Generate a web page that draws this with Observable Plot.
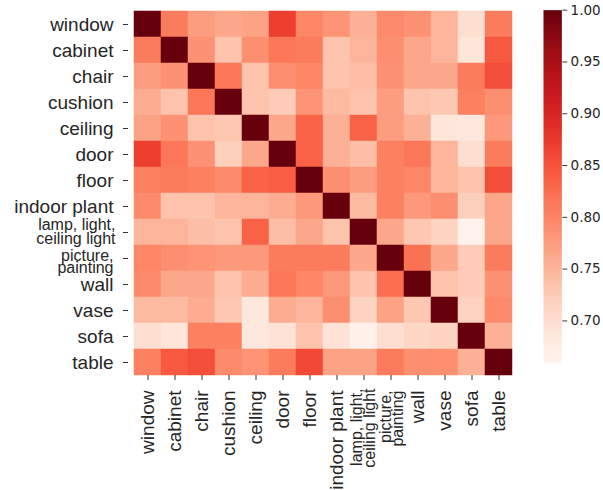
<!DOCTYPE html>
<html>
<head>
<meta charset="utf-8">
<script src="https://cdn.jsdelivr.net/npm/d3@7"></script>
<script src="https://cdn.jsdelivr.net/npm/@observablehq/plot@0.6"></script>
<style>
  html, body { margin: 0; padding: 0; background: #fff; }
  #wrap { position: relative; width: 603px; height: 490px; }
  #bar { position: absolute; left: 543px; top: 0; }
</style>
</head>
<body>
<div id="wrap"><div id="main"></div><div id="bar"></div></div>
<script>
const categories = ["window", "cabinet", "chair", "cushion", "ceiling", "door", "floor",
  "indoor plant", "lamp, light, ceiling light", "picture, painting", "wall", "vase", "sofa", "table"];
const tickLabels = ["window", "cabinet", "chair", "cushion", "ceiling", "door", "floor",
  "indoor plant", "lamp, light,\nceiling light", "picture,\npainting", "wall", "vase", "sofa", "table"];
const colorTicks = [0.70, 0.75, 0.80, 0.85, 0.90, 0.95, 1.00];
const colorDomain = [0.659, 1.0];

// correlation rows (columns in the same order as categories)
const rWindow  = [1.00, 0.81, 0.775, 0.765, 0.77, 0.87, 0.80, 0.785, 0.755, 0.795, 0.787, 0.75, 0.70, 0.81];
const rCabinet = [0.81, 1.00, 0.787, 0.735, 0.79, 0.815, 0.81, 0.735, 0.75, 0.79, 0.765, 0.75, 0.69, 0.845];
const rChair   = [0.775, 0.787, 1.00, 0.815, 0.735, 0.79, 0.80, 0.735, 0.74, 0.787, 0.765, 0.765, 0.81, 0.855];
const rCushion = [0.76, 0.735, 0.815, 1.00, 0.735, 0.725, 0.785, 0.745, 0.735, 0.775, 0.735, 0.73, 0.805, 0.79];
const rCeiling = [0.77, 0.787, 0.735, 0.73, 1.00, 0.765, 0.835, 0.755, 0.835, 0.775, 0.755, 0.688, 0.686, 0.78];
const rDoor    = [0.87, 0.815, 0.787, 0.72, 0.765, 1.00, 0.835, 0.755, 0.74, 0.805, 0.815, 0.75, 0.70, 0.81];
const rFloor   = [0.805, 0.81, 0.805, 0.795, 0.835, 0.84, 1.00, 0.79, 0.775, 0.805, 0.80, 0.75, 0.735, 0.855];
const rPlant   = [0.795, 0.735, 0.735, 0.75, 0.75, 0.76, 0.78, 1.00, 0.745, 0.805, 0.78, 0.79, 0.72, 0.765];
const rLamp    = [0.75, 0.75, 0.74, 0.735, 0.835, 0.74, 0.765, 0.735, 1.00, 0.765, 0.73, 0.715, 0.665, 0.765];
const rPicture = [0.80, 0.79, 0.785, 0.78, 0.78, 0.81, 0.81, 0.81, 0.765, 1.00, 0.82, 0.765, 0.725, 0.81];
const rWall    = [0.795, 0.765, 0.765, 0.735, 0.76, 0.815, 0.80, 0.78, 0.735, 0.825, 1.00, 0.735, 0.725, 0.787];
const rVase    = [0.745, 0.745, 0.76, 0.73, 0.686, 0.76, 0.75, 0.79, 0.715, 0.77, 0.73, 1.00, 0.717, 0.795];
const rSofa    = [0.70, 0.688, 0.805, 0.805, 0.686, 0.695, 0.735, 0.695, 0.668, 0.70, 0.71, 0.715, 1.00, 0.755];
const rTable   = [0.805, 0.845, 0.855, 0.795, 0.785, 0.81, 0.86, 0.77, 0.77, 0.81, 0.79, 0.79, 0.755, 1.00];

const rows = [rWindow, rCabinet, rChair, rCushion, rCeiling, rDoor, rFloor, rPlant, rLamp, rPicture, rWall, rVase, rSofa, rTable];
const cells = [];
rows.forEach((r, i) => r.forEach((v, j) => cells.push({row: categories[i], col: categories[j], v})));

const labelOf = new Map(categories.map((c, i) => [c, tickLabels[i]]));
const single = categories.filter(c => !labelOf.get(c).includes("\n"));
const lamp = ["lamp, light, ceiling light"];
const picture = ["picture, painting"];

const txt = {fill: "#262626"};
const main = Plot.plot({
  width: 603, height: 490,
  marginLeft: 128, marginRight: 85, marginTop: 10, marginBottom: 115,
  x: {domain: categories, padding: 0},
  y: {domain: categories, padding: 0},
  color: {type: "linear", scheme: "reds", domain: colorDomain},
  style: {fontFamily: "'Liberation Sans', Arial, Helvetica, sans-serif", color: "#262626", background: "#fff"},
  marks: [
    Plot.cell(cells, {x: "col", y: "row", fill: "v", stroke: "v", strokeWidth: 0.5, inset: 0}),
    Plot.axisX({tickSize: 5, tickFormat: () => "", label: null, stroke: "#333"}),
    Plot.axisY({tickSize: 5, tickFormat: () => "", label: null, stroke: "#333"}),
    // y labels
    Plot.text(single, {y: d => d, text: d => labelOf.get(d), frameAnchor: "left", textAnchor: "end", dx: -15, fontSize: 19, ...txt}),
    Plot.text(lamp, {y: d => d, text: d => labelOf.get(d), frameAnchor: "left", textAnchor: "end", dx: -13, fontSize: 16, lineHeight: 0.85, ...txt}),
    Plot.text(picture, {y: d => d, text: d => labelOf.get(d), frameAnchor: "left", textAnchor: "end", dx: -15, dy: 5, fontSize: 16, lineHeight: 0.75, ...txt}),
    // x labels
    Plot.text(single, {x: d => d, text: d => labelOf.get(d), frameAnchor: "bottom", rotate: -90, textAnchor: "end", lineAnchor: "middle", dy: 15, fontSize: 19, ...txt}),
    Plot.text(lamp, {x: d => d, text: d => labelOf.get(d), frameAnchor: "bottom", rotate: -90, textAnchor: "end", lineAnchor: "middle", dy: 13, fontSize: 16, lineHeight: 0.85, ...txt}),
    Plot.text(picture, {x: d => d, text: d => labelOf.get(d), frameAnchor: "bottom", rotate: -90, textAnchor: "end", lineAnchor: "middle", dx: 2, dy: 15, fontSize: 16, lineHeight: 0.73, ...txt})
  ]
});
document.getElementById("main").appendChild(main);

const bar = Plot.plot({
  width: 62, height: 490,
  marginLeft: 0, marginRight: 43, marginTop: 10, marginBottom: 115,
  x: {domain: [0, 1], axis: null},
  y: {domain: colorDomain},
  color: {type: "linear", scheme: "reds", domain: colorDomain},
  style: {fontFamily: "'DejaVu Sans', sans-serif", color: "#262626", background: "transparent"},
  marks: [
    Plot.raster({x1: 0, x2: 1, y1: colorDomain[0], y2: colorDomain[1], fill: (x, y) => y, width: 2, height: 365, imageRendering: "auto"}),
    Plot.axisY({anchor: "right", ticks: colorTicks, tickFormat: d3.format(".2f"), tickSize: 5, tickPadding: 4, fontSize: 14, label: null, stroke: "#333"})
  ]
});
document.getElementById("bar").appendChild(bar);
</script>
</body>
</html>
